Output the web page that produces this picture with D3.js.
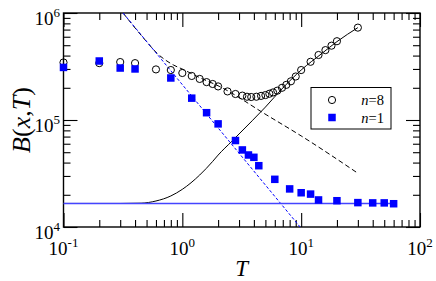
<!DOCTYPE html>
<html>
<head>
<meta charset="utf-8">
<script src="https://cdn.jsdelivr.net/npm/d3@7"></script>
<style>
  body { margin: 0; background: #fff; }
  text { font-family: "Liberation Serif", "Times New Roman", serif; fill: #000; }
</style>
</head>
<body>
<div id="chart"></div>
<script>
// n=8 (open circles)
var circleT = [0.1, 0.2, 0.3, 0.4, 0.6, 0.8, 1.0, 1.2, 1.4, 1.6, 1.8, 2.0, 2.4, 2.8,
  3.2, 3.5, 3.8, 4.2, 4.6, 5.0, 5.4, 5.8, 6.3, 6.9, 7.5, 8.2, 9.0, 10, 12, 14, 16, 18, 20, 30];
var circleB = [3.45e5, 3.4e5, 3.48e5, 3.4e5, 2.97e5, 2.93e5, 2.75e5, 2.58e5, 2.42e5, 2.26e5, 2.17e5, 2.06e5, 1.85e5, 1.75e5,
  1.69e5, 1.65e5, 1.64e5, 1.65e5, 1.68e5, 1.71e5, 1.76e5, 1.81e5, 1.88e5, 2.0e5, 2.13e5, 2.3e5, 2.55e5, 2.93e5, 3.5e5, 4.05e5, 4.5e5, 4.95e5, 5.45e5, 7.3e5];

// n=1 (filled squares)
var squareT = [0.1, 0.2, 0.3, 0.4, 0.8, 1.2, 1.6, 2.0, 2.8, 3.2, 3.6, 4.0, 4.4, 6, 8, 10, 12, 14, 20, 30, 40, 50, 60];
var squareB = [3.1e5, 3.56e5, 3.06e5, 3.0e5, 2.47e5, 1.6e5, 1.17e5, 9.2e4, 6.43e4, 5.25e4, 4.71e4, 4.48e4, 3.74e4, 2.79e4,
  2.27e4, 2.09e4, 2.03e4, 1.79e4, 1.76e4, 1.69e4, 1.68e4, 1.68e4, 1.65e4];

// fit curves
var solidT = [0.1, 0.3, 0.45, 0.6, 0.8, 1.0, 1.4, 1.8, 2.0, 2.6, 3.0, 5, 7, 10, 15, 20, 30];
var solidB = [1.66e4, 1.66e4, 1.67e4, 1.75e4, 1.95e4, 2.25e4, 3.06e4, 4.1e4, 4.7e4, 6.3e4, 7.4e4, 1.32e5, 1.99e5, 2.93e5, 4.2e5, 5.4e5, 7.3e5];
var dashT = [0.317, 0.5, 0.6, 0.84, 1.0, 1.4, 2.07, 5.15, 10, 30];
var dashB = [1e6, 5.4e5, 4.3e5, 3.27e5, 2.99e5, 2.49e5, 2.05e5, 1.11e5, 7.1e4, 3.18e4];
var powT = [0.317, 9.8];
var powB = [1e6, 1e4];
var flatT = [0.1, 60];
var flatB = [1.66e4, 1.66e4];

var xMajor = [0.1, 1, 10, 100];
var xExp = ["-1", "0", "1", "2"];
var yMajor = [1e4, 1e5, 1e6];
var yExp = ["4", "5", "6"];
var legendN = ["8", "1"];

var svgWidth = 436, svgHeight = 281;
// plot frame edges (window.top is reserved, so prefixed names)
var pLeft = 63.5, pRight = 420, pTop = 13, pBottom = 227;

var svg = d3.select("#chart").append("svg")
  .attr("width", svgWidth)
  .attr("height", svgHeight);

var x = d3.scaleLog().domain([0.1, 100]).range([pLeft, pRight]);
var y = d3.scaleLog().domain([1e4, 1e6]).range([pBottom, pTop]);

function minors(lo, hi) {
  var out = [];
  for (var d = lo; d < hi * 0.99; d *= 10) {
    for (var k = 2; k <= 9; k++) out.push(d * k);
  }
  return out;
}
var xMinor = minors(0.1, 100);
var yMinor = minors(1e4, 1e6);

// ticks on all four sides, pointing inward
function addAxis(axisFn, scale, vals, size, transform) {
  svg.append("g")
    .attr("transform", transform)
    .call(axisFn(scale).tickValues(vals).tickSize(size).tickFormat(""))
    .call(g => g.select(".domain").remove())
    .selectAll("line").attr("stroke", "#000").attr("stroke-width", 1.1);
}
addAxis(d3.axisBottom, x, xMajor, -14, `translate(0,${pBottom})`);
addAxis(d3.axisBottom, x, xMinor, -7, `translate(0,${pBottom})`);
addAxis(d3.axisTop, x, xMajor, -14, `translate(0,${pTop})`);
addAxis(d3.axisTop, x, xMinor, -7, `translate(0,${pTop})`);
addAxis(d3.axisLeft, y, yMajor, -14, `translate(${pLeft},0)`);
addAxis(d3.axisLeft, y, yMinor, -7, `translate(${pLeft},0)`);
addAxis(d3.axisRight, y, yMajor, -14, `translate(${pRight},0)`);
addAxis(d3.axisRight, y, yMinor, -7, `translate(${pRight},0)`);

// frame
svg.append("rect")
  .attr("x", pLeft).attr("y", pTop)
  .attr("width", pRight - pLeft).attr("height", pBottom - pTop)
  .attr("fill", "none").attr("stroke", "#000").attr("stroke-width", 1.4);

// tick labels
xMajor.forEach(function(v, i) {
  var t = svg.append("text")
    .attr("x", x(v)).attr("y", 255)
    .attr("text-anchor", "middle")
    .attr("font-size", 19);
  t.append("tspan").text("10");
  t.append("tspan").attr("dy", -8).attr("font-size", 13).text(xExp[i]);
});
yMajor.forEach(function(v, i) {
  var t = svg.append("text")
    .attr("x", 60).attr("y", y(v) + 11.5)
    .attr("text-anchor", "end")
    .attr("font-size", 19);
  t.append("tspan").text("10");
  t.append("tspan").attr("dy", -8).attr("font-size", 13).text(yExp[i]);
});

// axis titles
svg.append("text")
  .attr("x", (pLeft + pRight) / 2).attr("y", 276)
  .attr("text-anchor", "middle")
  .attr("font-size", 23).attr("font-style", "italic")
  .text("T");

var yt = svg.append("text")
  .attr("transform", `translate(30,${(pTop + pBottom) / 2}) rotate(-90)`)
  .attr("text-anchor", "middle")
  .attr("font-size", 26);
yt.append("tspan").attr("font-style", "italic").text("B");
yt.append("tspan").text("(");
yt.append("tspan").attr("font-style", "italic").text("x");
yt.append("tspan").text(",");
yt.append("tspan").attr("font-style", "italic").text("T");
yt.append("tspan").text(")");

// lines
function pts(ts, bs) { return ts.map((t, i) => [t, bs[i]]); }
var line = d3.line().x(d => x(d[0])).y(d => y(d[1]));
var smooth = d3.line().x(d => x(d[0])).y(d => y(d[1])).curve(d3.curveMonotoneX);

svg.append("path").datum(pts(solidT, solidB))
  .attr("d", smooth).attr("fill", "none").attr("stroke", "#000").attr("stroke-width", 1);
svg.append("path").datum(pts(dashT, dashB))
  .attr("d", smooth).attr("fill", "none").attr("stroke", "#000").attr("stroke-width", 1)
  .attr("stroke-dasharray", "5,3");
svg.append("path").datum(pts(powT, powB))
  .attr("d", line).attr("fill", "none").attr("stroke", "#0000ff").attr("stroke-width", 1)
  .attr("stroke-dasharray", "3,2");
svg.append("path").datum(pts(flatT, flatB))
  .attr("d", line).attr("fill", "none").attr("stroke", "#4444ff").attr("stroke-width", 1.4);

// markers
svg.append("g").selectAll("circle")
  .data(pts(circleT, circleB))
  .enter().append("circle")
  .attr("cx", d => x(d[0])).attr("cy", d => y(d[1]))
  .attr("r", 3.6)
  .attr("fill", "none").attr("stroke", "#000").attr("stroke-width", 1);

var sq = 7.5;
svg.append("g").selectAll("rect")
  .data(pts(squareT, squareB))
  .enter().append("rect")
  .attr("x", d => x(d[0]) - sq / 2).attr("y", d => y(d[1]) - sq / 2)
  .attr("width", sq).attr("height", sq)
  .attr("fill", "#0000ff");

// legend
var lg = svg.append("g");
lg.append("rect")
  .attr("x", 311).attr("y", 87.5).attr("width", 80).attr("height", 41.5)
  .attr("fill", "#fff").attr("stroke", "#000").attr("stroke-width", 1);
lg.append("circle").attr("cx", 332).attr("cy", 100).attr("r", 3.6)
  .attr("fill", "none").attr("stroke", "#000");
lg.append("rect").attr("x", 332 - sq / 2).attr("y", 117.5 - sq / 2)
  .attr("width", sq).attr("height", sq).attr("fill", "#0000ff");
legendN.forEach(function(n, i) {
  var t = lg.append("text").attr("x", 384).attr("y", 105 + i * 17.5)
    .attr("text-anchor", "end").attr("font-size", 14.5);
  t.append("tspan").attr("font-style", "italic").text("n");
  t.append("tspan").text("=" + n);
});
</script>
</body>
</html>
